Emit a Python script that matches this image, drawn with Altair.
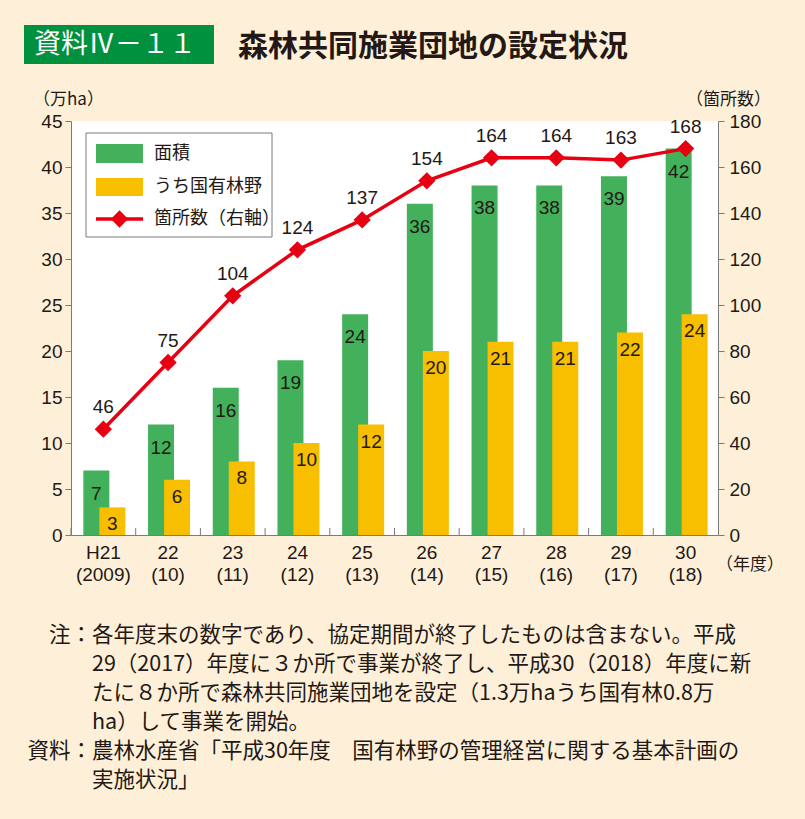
import altair as alt
import pandas as pd

# ---- data ----
years = ["H21|(2009)", "22|(10)", "23|(11)", "24|(12)", "25|(13)",
         "26|(14)", "27|(15)", "28|(16)", "29|(17)", "30|(18)"]
area = [7, 12, 16, 19, 24, 36, 38, 38, 39, 42]          # 面積 (万ha)
national = [3, 6, 8, 10, 12, 20, 21, 21, 22, 24]        # うち国有林野 (万ha)
sites = [46, 75, 104, 124, 137, 154, 164, 164, 163, 168]  # 箇所数

left_ticks = list(range(0, 46, 5))
right_ticks = list(range(0, 181, 20))

title_tag = "資料Ⅳ－１１"
title_text = "森林共同施業団地の設定状況"
legend_labels = ["面積", "うち国有林野", "箇所数（右軸）"]
note_label = "注："
source_label = "資料："
note_lines = [
    "各年度末の数字であり、協定期間が終了したものは含まない。平成",
    "29（2017）年度に３か所で事業が終了し、平成30（2018）年度に新",
    "たに８か所で森林共同施業団地を設定（1.3万haうち国有林0.8万",
    "ha）して事業を開始。",
]
source_lines = [
    "農林水産省「平成30年度　国有林野の管理経営に関する基本計画の",
    "実施状況」",
]

df = pd.DataFrame({"year": years, "area": area, "national": national, "sites": sites})
one = pd.DataFrame({"a": [0]})

# ---- style ----
W, H = 647, 414
GREEN = "#43B05C"
YELLOW = "#F8BE00"
RED = "#E60012"
INK = "#231815"
AXIS = "#7a7a7a"
BG = "#FEF0D8"
TAGGREEN = "#00913F"
NUM = "Liberation Sans"
JP = "Noto Sans CJK JP"


def xenc(**kw):
    return alt.X(
        "year:N", sort=years,
        scale=alt.Scale(paddingInner=0, paddingOuter=0),
        axis=alt.Axis(title=None, ticks=False, domain=True, domainColor=AXIS,
                      labelExpr="split(datum.label, '|')", labelFont=NUM,
                      labelFontSize=19, labelColor=INK, labelPadding=8,
                      labelLineHeight=22, labelAngle=0),
        **kw)


yL = alt.Scale(domain=[0, 45], nice=False)
yR = alt.Scale(domain=[0, 180], nice=False)

left_axis = alt.Axis(orient="left", values=left_ticks, title=None, grid=False,
                     tickSize=6, tickColor=AXIS, domainColor=AXIS,
                     labelFont=NUM, labelFontSize=19, labelColor=INK, labelPadding=3)
right_axis = alt.Axis(orient="right", values=right_ticks, title=None, grid=False,
                      tickSize=6, tickColor=AXIS, domainColor=AXIS,
                      labelFont=NUM, labelFontSize=19, labelColor=INK, labelPadding=5)

base = alt.Chart(df)

green = base.mark_bar(color=GREEN, width=26, xOffset=-7).encode(
    x=xenc(), y=alt.Y("area:Q", scale=yL, axis=left_axis))
yellow = base.mark_bar(color=YELLOW, width=26, xOffset=9).encode(
    x=xenc(), y=alt.Y("national:Q", scale=yL))
green_lab = base.mark_text(font=NUM, fontSize=19, color=INK, baseline="middle",
                           dy=23, xOffset=-7).encode(
    x=xenc(), y=alt.Y("area:Q", scale=yL), text="area:Q")
yellow_lab = base.mark_text(font=NUM, fontSize=19, color=INK, baseline="middle",
                            dy=17, xOffset=9).encode(
    x=xenc(), y=alt.Y("national:Q", scale=yL), text="national:Q")
xticks = base.mark_rule(color=AXIS, strokeWidth=1).encode(
    x=xenc(bandPosition=0), y=alt.value(H), y2=alt.value(H - 7))

left_group = alt.layer(green, yellow, green_lab, yellow_lab, xticks)

line = base.mark_line(color=RED, strokeWidth=3.5).encode(
    x=xenc(), y=alt.Y("sites:Q", scale=yR, axis=right_axis))
pts = base.mark_point(shape="diamond", filled=True, size=300, color=RED, opacity=1).encode(
    x=xenc(), y=alt.Y("sites:Q", scale=yR))
site_lab = base.mark_text(font=NUM, fontSize=19, color=INK, baseline="middle", dy=-22).encode(
    x=xenc(), y=alt.Y("sites:Q", scale=yR), text="sites:Q")

right_group = alt.layer(line, pts, site_lab)


def deco_text(text, x, y, font=JP, size=18, align="left", color=INK, weight="normal"):
    return alt.Chart(one).mark_text(text=text, font=font, fontSize=size, align=align,
                                    baseline="middle", color=color, fontWeight=weight).encode(
        x=alt.value(x), y=alt.value(y))


def deco_rect(x, x2, y, y2, fill, stroke=None):
    kw = dict(color=fill)
    if stroke:
        kw.update(stroke=stroke, strokeWidth=1)
    return alt.Chart(one).mark_rect(**kw).encode(
        x=alt.value(x), x2=alt.value(x2), y=alt.value(y), y2=alt.value(y2))


decos = [
    # title
    deco_rect(-47, 143, -96, -57, TAGGREEN),
    deco_text(title_tag, -37, -76, size=27, color="white"),
    deco_text(title_text, 167, -74, size=30, weight="bold"),
    # axis titles
    deco_text("（万ha）", -38, -21, size=17),
    deco_text("（箇所数）", 700, -21, size=17, align="right"),
    deco_text("（年度）", 645, 444, size=17),
    # legend
    deco_rect(15, 201, 12, 116, "white", stroke=AXIS),
    deco_rect(25, 72, 23, 42, GREEN),
    deco_rect(25, 72, 57, 75, YELLOW),
    alt.Chart(one).mark_rule(color=RED, strokeWidth=3.5).encode(
        x=alt.value(25), x2=alt.value(72), y=alt.value(98)),
    alt.Chart(one).mark_point(shape="diamond", filled=True, size=300, color=RED, opacity=1).encode(
        x=alt.value(48.5), y=alt.value(98)),
    deco_text(legend_labels[0], 83, 33, size=18),
    deco_text(legend_labels[1], 83, 66, size=18),
    deco_text(legend_labels[2], 83, 98, size=18),
]

# notes
NOTE_SIZE = 21.5
note_y = [515, 544, 573, 602]
src_y = [631, 660]
decos.append(deco_text(note_label, 21, note_y[0], size=NOTE_SIZE, align="right"))
for t, y in zip(note_lines, note_y):
    decos.append(deco_text(t, 21, y, size=NOTE_SIZE))
decos.append(deco_text(source_label, 21, src_y[0], size=NOTE_SIZE, align="right"))
for t, y in zip(source_lines, src_y):
    decos.append(deco_text(t, 21, y, size=NOTE_SIZE))

chart = alt.layer(left_group, right_group, *decos).resolve_scale(
    y="independent"
).properties(
    width=W, height=H,
    autosize=alt.AutoSizeParams(type="none"),
    padding={"left": 71, "top": 121, "right": 87, "bottom": 284},
).configure(background=BG).configure_view(fill="white", stroke=None)

chart.save("out.html", embed_options={"renderer": "svg", "actions": False})
